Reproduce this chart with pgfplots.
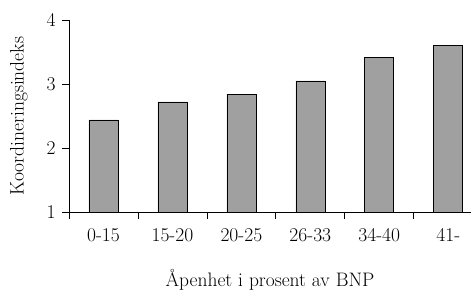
\documentclass[border=0pt]{standalone}
\usepackage{pgfplots}
\pgfplotsset{compat=1.18}
\definecolor{bargray}{RGB}{160,160,160}
\newcommand{\fs}{\fontsize{19.5pt}{23pt}\selectfont}
\begin{document}
\begin{tikzpicture}
\begin{axis}[
  name=ax,
  at={(0,0)}, anchor=south west,
  scale only axis, width=402pt, height=192pt,
  xmin=-0.5, xmax=5.33, ymin=1, ymax=4,
  axis x line=bottom, axis y line=left,
  axis line style={-, black, line width=0.8pt},
  ytick={1,2,3,4},
  y tick label style={font=\fs, xshift=-3pt},
  /pgf/number format/assume math mode=true,
  tick style={black, line width=0.8pt},
  tick align=outside, major tick length=7pt,
  xtick={-0.5,0.5,1.5,2.5,3.5,4.5},
  xticklabels={},
  x tick label style={font=\fs, yshift=-13pt},
  extra x ticks={0,1,2,3,4,5},
  extra x tick labels={0-15,15-20,20-25,26-33,34-40,41-},
  extra x tick style={major tick length=0pt},
  xlabel={Åpenhet i prosent av BNP},
  ylabel={Koordineringsindeks},
  xlabel style={font=\fs, at={(axis description cs:0.5,-0.354)}, anchor=center},
  ylabel style={font=\fs, at={(axis description cs:-0.125,0.5)}, anchor=center},
  ybar, bar width=29pt,
  clip=false,
]
\addplot[fill=bargray, draw=black, line width=0.6pt] coordinates {
 (0,2.44) (1,2.72) (2,2.84) (3,3.05) (4,3.41) (5,3.60)
};
\end{axis}
\pgfresetboundingbox
\path (ax.south west) +(-69pt,-83pt) rectangle +(402pt,212pt);
\end{tikzpicture}
\end{document}
